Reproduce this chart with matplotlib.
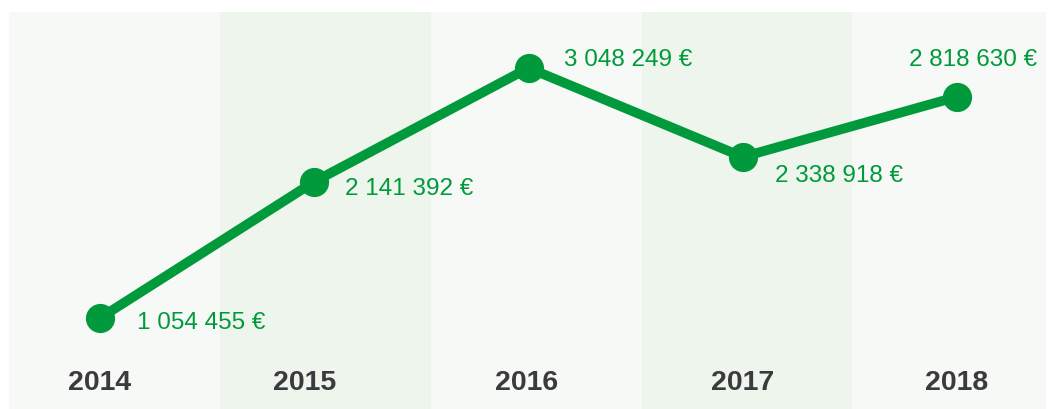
import matplotlib
matplotlib.use("Agg")
import matplotlib.pyplot as plt
from matplotlib.patches import Rectangle

years = ["2014", "2015", "2016", "2017", "2018"]
values = [1054455, 2141392, 3048249, 2338918, 2818630]
value_labels = ["1 054 455 €", "2 141 392 €", "3 048 249 €", "2 338 918 €", "2 818 630 €"]

GREEN = "#009a3c"
DARK = "#3b3b3d"
BAND_LIGHT = "#f7f9f6"
BAND_GREEN = "#eef5ec"

W, H = 1049, 409
fig = plt.figure(figsize=(W / 100, H / 100), dpi=100)
ax = fig.add_axes([0, 0, 1, 1])
ax.set_axis_off()

# layout: pixel mapping
ax.set_xlim(-100 / 214.25, 949 / 214.25)
slope = 1.2539e-4
ax.set_ylim(values[0] - 91 / slope, values[0] + 318 / slope)

# background bands (layout, in pixels)
edges = [9, 220, 431, 642, 852, 1046]
for i in range(len(edges) - 1):
    col = BAND_LIGHT if i % 2 == 0 else BAND_GREEN
    ax.add_patch(Rectangle((edges[i] / W, 0), (edges[i + 1] - edges[i]) / W, 1 - 12 / H,
                           transform=ax.transAxes, facecolor=col, edgecolor="none", zorder=0))

x = list(range(len(years)))
ax.plot(x, values, color=GREEN, lw=7, solid_capstyle="round", zorder=2)
ax.plot(x, values, "o", color=GREEN, ms=20, zorder=3)

offsets = [(37, -5, "left"), (31, -7, "left"), (36, 8, "left"), (32, -19, "left"), (16, 37, "center")]
for xi, v, lab, (dx, dy, ha) in zip(x, values, value_labels, offsets):
    ax.annotate(lab, (xi, v), xytext=(dx, dy), textcoords="offset pixels",
                ha=ha, va="center", color=GREEN, fontsize=17.5,
                family="Liberation Sans", zorder=4)

year_dx = [0, -10, -2, 0, 0]
for xi, y, dx in zip(x, years, year_dx):
    ax.annotate(y, (xi, 1 - 383 / H), xycoords=ax.get_xaxis_transform(),
                xytext=(dx, 0), textcoords="offset pixels", ha="center", va="center",
                fontsize=20.5, fontweight="bold", color=DARK, family="Liberation Sans")

fig.savefig("out.png", dpi=100)
